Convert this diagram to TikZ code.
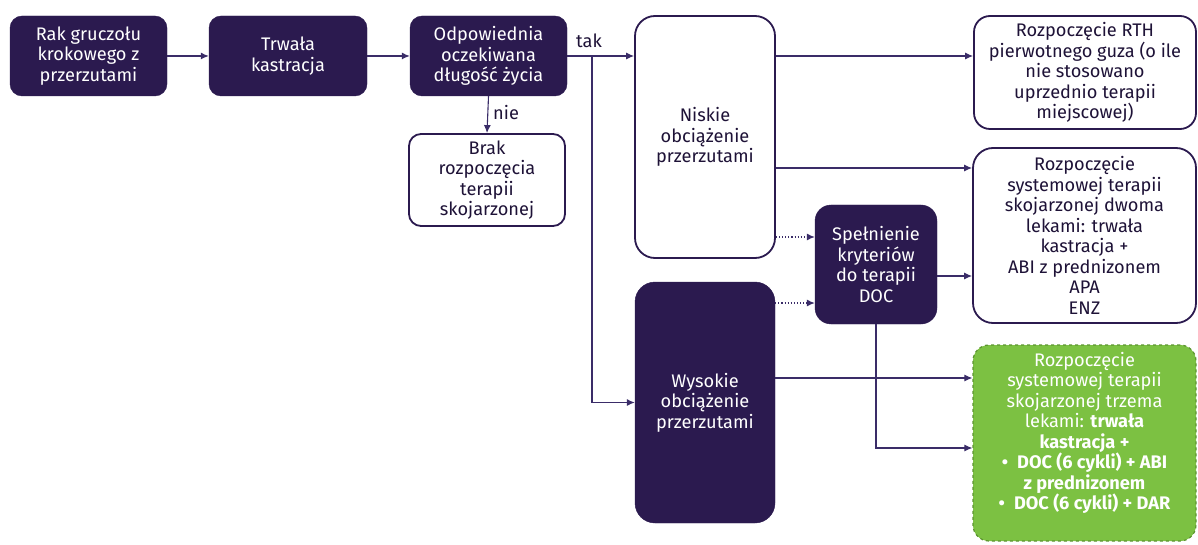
\documentclass[tikz,border=0pt]{standalone}
\usepackage{fontspec}
\setmainfont{Fira Sans}
\usetikzlibrary{arrows.meta}
\definecolor{ink}{HTML}{2B1A4F}
\definecolor{wire}{HTML}{3A2C68}
\definecolor{leaf}{HTML}{7CC142}
\definecolor{leafedge}{HTML}{5C9530}
\tikzset{
  box/.style={rectangle, rounded corners=#1, inner sep=0pt, align=center,
    font=\fontsize{18.2}{20.5}\selectfont},
  box/.default=12pt,
  darkbox/.style={box=#1, fill=ink, draw=ink, text=white},
  darkbox/.default=12pt,
  lightbox/.style={box=#1, fill=white, draw=ink, line width=1.8pt, text=ink!70!black},
  lightbox/.default=14pt,
  greenbox/.style={box=16pt, fill=leaf, draw=leafedge, dashed, line width=1.2pt, text=white},
  arr/.style={draw=wire, line width=1.1pt, -{Latex[length=8pt,width=7pt]}},
  dotarr/.style={arr, dotted},
  lbl/.style={font=\fontsize{18.2}{20}\selectfont, text=ink!70!black, inner sep=1pt}
}
\begin{document}
\begin{tikzpicture}[x=1pt,y=-1pt]
\useasboundingbox (0,0) rectangle (1198,545);

% main chain
\node[darkbox, minimum width=157pt, minimum height=80pt] (rak) at (88.5,56)
  {Rak gruczołu\\krokowego z\\przerzutami};
\node[darkbox, minimum width=158pt, minimum height=80pt] (trw) at (288,56)
  {Trwała\\kastracja};
\node[darkbox, minimum width=157pt, minimum height=80pt] (odp) at (488.5,56)
  {Odpowiednia\\oczekiwana\\długość życia};
\node[lightbox=12pt, minimum width=156pt, minimum height=92pt] (brak) at (487,180)
  {Brak\\rozpoczęcia\\terapii\\skojarzonej};

% metastatic burden
\node[lightbox=20pt, minimum width=140pt, minimum height=242pt] (nis) at (705,137)
  {Niskie\\obciążenie\\przerzutami};
\node[darkbox=20pt, minimum width=140pt, minimum height=241pt] (wys) at (705,402.5)
  {Wysokie\\obciążenie\\przerzutami};
\node[darkbox=16pt, minimum width=122pt, minimum height=119pt] (spel) at (876,264.5)
  {Spełnienie\\kryteriów\\do terapii\\DOC};

% treatment options
\node[lightbox=16pt, minimum width=222pt, minimum height=113pt] (rth) at (1085,72.5)
  {Rozpoczęcie RTH\\pierwotnego guza (o ile\\nie stosowano\\uprzednio terapii\\miejscowej)};
\node[lightbox=20pt, minimum width=223pt, minimum height=175pt] (dwa) at (1084.5,235.5)
  {Rozpoczęcie\\systemowej terapii\\skojarzonej dwoma\\lekami: trwała\\kastracja +\\ABI z prednizonem\\APA\\ENZ};
\node[greenbox, minimum width=223pt, minimum height=196pt] (trzy) at (1084.5,443)
  {Rozpoczęcie\\systemowej terapii\\skojarzonej trzema\\lekami: \textbf{trwała}\\\textbf{kastracja +}\\\textbf{•\enspace DOC (6 cykli) + ABI}\\\textbf{z prednizonem}\\\textbf{•\enspace DOC (6 cykli) + DAR}\\[4pt]};

% routing rows
\coordinate (split) at (592,56);
\coordinate (rowA) at (0,56);
\coordinate (rowB) at (0,168);
\coordinate (rowC) at (0,237);
\coordinate (rowD) at (0,276);
\coordinate (rowE) at (0,303);
\coordinate (rowF) at (0,378);
\coordinate (rowG) at (0,448);

\draw[arr] (rak) -- (trw);
\draw[arr] (trw) -- (odp);
\draw[arr] (odp.east) -- (nis.west |- rowA);
\draw[arr] (split) |- (wys.west);
\node[lbl, anchor=south] at (589,49) {tak};
\draw[arr] (odp.south) -- (brak.north);
\node[lbl, anchor=west] at (492,113) {nie};

\draw[arr] (nis.east |- rowA) -- (rth.west |- rowA);
\draw[arr] (nis.east |- rowB) -- (dwa.west |- rowB);
\draw[dotarr] (nis.east |- rowC) -- (spel.west |- rowC);
\draw[dotarr] (wys.east |- rowE) -- (spel.west |- rowE);
\draw[arr] (spel.east |- rowD) -- (dwa.west |- rowD);
\draw[arr] (wys.east |- rowF) -- (trzy.west |- rowF);
\draw[arr] (spel.south) |- (trzy.west |- rowG);
\end{tikzpicture}
\end{document}
